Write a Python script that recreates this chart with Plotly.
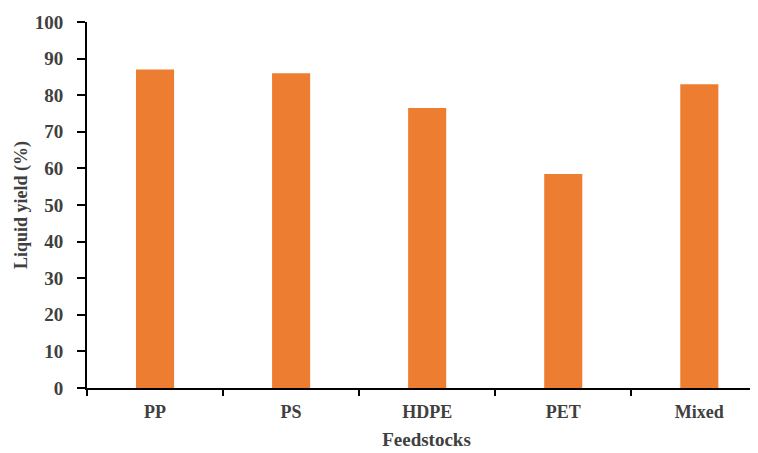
import plotly.graph_objects as go

categories = ["PP", "PS", "HDPE", "PET", "Mixed"]
liquid_yield = [87, 86, 76.5, 58.5, 83]

y_ticks = list(range(0, 101, 10))

font_family = "Liberation Serif, Times New Roman, serif"
text_color = "#404040"

fig = go.Figure(
    go.Bar(
        x=categories,
        y=liquid_yield,
        marker=dict(color="#ED7D31", line=dict(width=0)),
        width=0.28,
    )
)

fig.update_layout(
    width=758,
    height=453,
    margin=dict(l=79, r=0, t=14, b=73),
    paper_bgcolor="white",
    plot_bgcolor="white",
    showlegend=False,
    font=dict(family=font_family, color=text_color, size=18, weight="bold"),
)

fig.update_xaxes(
    range=[-0.5, 4.49],
    automargin=False,
    showline=True,
    linecolor="black",
    linewidth=2,
    ticks="outside",
    tickson="boundaries",
    ticklen=6,
    tickcolor="black",
    tickwidth=2,
    ticklabelstandoff=6,
    tickfont=dict(family=font_family, size=18, color=text_color, weight="bold"),
    title=dict(text="Feedstocks", font=dict(family=font_family, size=19, color=text_color, weight="bold"), standoff=12),
    showgrid=False,
    zeroline=False,
)

fig.update_yaxes(
    range=[0, 100],
    tickvals=y_ticks,
    automargin=False,
    showline=True,
    linecolor="black",
    linewidth=2,
    ticks="outside",
    ticklen=8,
    tickcolor="black",
    tickwidth=2,
    ticklabelstandoff=10,
    tickfont=dict(family=font_family, size=19, color=text_color, weight="bold"),
    title=dict(text="Liquid yield (%)", font=dict(family=font_family, size=18, color=text_color, weight="bold"), standoff=2),
    showgrid=False,
    zeroline=False,
)

fig.write_html("out.html")
